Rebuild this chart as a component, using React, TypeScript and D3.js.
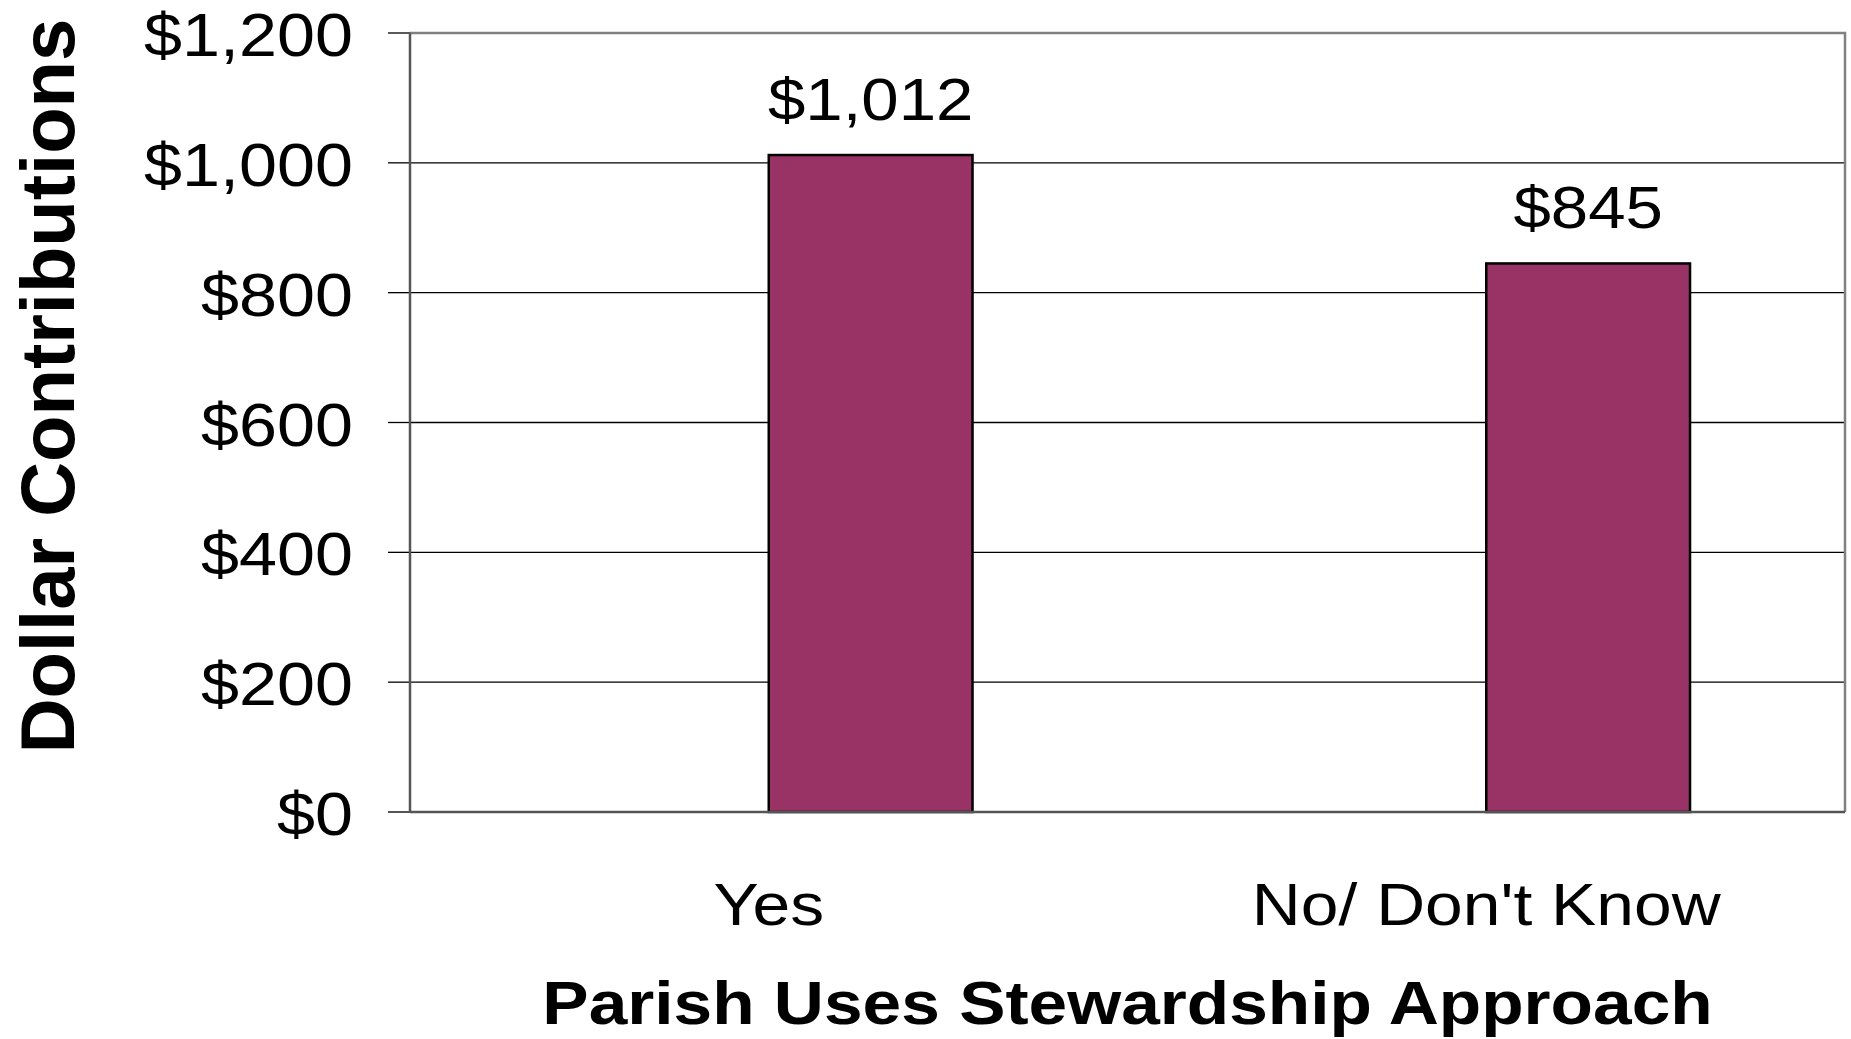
import * as d3 from "d3";
import { useEffect, useRef } from "react";

const categories = ["Yes", "No/ Don't Know"];
const contributions = [1012, 845];
const yTicks = [0, 200, 400, 600, 800, 1000, 1200];

const xTitle = "Parish Uses Stewardship Approach";
const yTitle = "Dollar Contributions";

const FONT = "'Liberation Sans', Arial, Helvetica, sans-serif";
const STRETCH = 1.12; // the original is a little wider than tall

export default function App() {
  const svgRef = useRef<SVGSVGElement>(null);

  useEffect(() => {
    const width = 1851;
    const height = 1039;
    const m = { left: 410, right: 1845, top: 33, bottom: 812 };

    const svg = d3.select(svgRef.current)
      .attr("width", width)
      .attr("height", height);

    svg.selectAll("*").remove();

    svg.append("rect")
      .attr("width", width)
      .attr("height", height)
      .attr("fill", "#ffffff");

    const x = d3.scaleBand<string>()
      .domain(categories)
      .range([m.left, m.right]);

    const y = d3.scaleLinear()
      .domain([0, 1200])
      .range([m.bottom, m.top]);

    const money = d3.format("$,");

    // gridlines
    svg.append("g")
      .selectAll("line")
      .data(yTicks.filter(t => t > 0 && t < 1200))
      .join("line")
      .attr("x1", m.left)
      .attr("x2", m.right)
      .attr("y1", d => y(d))
      .attr("y2", d => y(d))
      .attr("stroke", "#000")
      .attr("stroke-width", 1.3);

    // plot border top / right
    svg.append("path")
      .attr("d", `M${m.left},${y(1200)}H${m.right}V${y(0)}`)
      .attr("fill", "none")
      .attr("stroke", "#808080")
      .attr("stroke-width", 2.5);

    // tick marks
    svg.append("g")
      .selectAll("line")
      .data(yTicks)
      .join("line")
      .attr("x1", m.left - 22)
      .attr("x2", m.left)
      .attr("y1", d => y(d))
      .attr("y2", d => y(d))
      .attr("stroke", d => d === 0 ? "#555" : "#000")
      .attr("stroke-width", d => d === 0 ? 2 : 1.3);

    // tick labels
    svg.append("g")
      .selectAll("text")
      .data(yTicks)
      .join("text")
      .attr("transform", d => `translate(353,${y(d) + 23}) scale(${STRETCH},1)`)
      .attr("text-anchor", "end")
      .attr("font-family", FONT)
      .attr("font-size", 61)
      .attr("fill", "#000")
      .text(d => money(d));

    // bars
    const barW = x.bandwidth() * 0.284;
    svg.append("g")
      .selectAll("rect")
      .data(categories)
      .join("rect")
      .attr("x", d => (x(d) ?? 0) + x.bandwidth() / 2)
      .attr("y", (d, i) => y(contributions[i]))
      .attr("width", barW)
      .attr("height", (d, i) => y(0) - y(contributions[i]))
      .attr("fill", "#993366")
      .attr("stroke", "#000")
      .attr("stroke-width", 2.5);

    // value labels
    svg.append("g")
      .selectAll("text")
      .data(categories)
      .join("text")
      .attr("transform", (d, i) =>
        `translate(${(x(d) ?? 0) + x.bandwidth() / 2 + barW / 2},${y(contributions[i]) - 35}) scale(${STRETCH},1)`)
      .attr("text-anchor", "middle")
      .attr("font-family", FONT)
      .attr("font-size", 60)
      .attr("fill", "#000")
      .text((d, i) => money(contributions[i]));

    // axes lines
    svg.append("line")
      .attr("x1", m.left)
      .attr("x2", m.left)
      .attr("y1", y(1200))
      .attr("y2", y(0))
      .attr("stroke", "#555")
      .attr("stroke-width", 2.5);

    svg.append("line")
      .attr("x1", m.left)
      .attr("x2", m.right)
      .attr("y1", y(0))
      .attr("y2", y(0))
      .attr("stroke", "#555")
      .attr("stroke-width", 2.5);

    // category labels
    svg.append("g")
      .selectAll("text")
      .data(categories)
      .join("text")
      .attr("transform", d => `translate(${(x(d) ?? 0) + x.bandwidth() / 2},925) scale(${STRETCH + 0.01},1)`)
      .attr("text-anchor", "middle")
      .attr("font-family", FONT)
      .attr("font-size", 60)
      .attr("fill", "#000")
      .text(d => d);

    // axis titles
    svg.append("text")
      .attr("transform", `translate(${(m.left + m.right) / 2},1024) scale(${STRETCH},1)`)
      .attr("text-anchor", "middle")
      .attr("font-family", FONT)
      .attr("font-weight", "bold")
      .attr("font-size", 62)
      .attr("fill", "#000")
      .text(xTitle);

    svg.append("text")
      .attr("transform", `translate(74,386) rotate(-90)`)
      .attr("text-anchor", "middle")
      .attr("font-family", FONT)
      .attr("font-weight", "bold")
      .attr("font-size", 76)
      .attr("fill", "#000")
      .text(yTitle);
  }, []);

  return (
    <svg
      ref={svgRef}
      style={{ position: "absolute", left: 0, top: 0, display: "block" }}
    ></svg>
  );
}
